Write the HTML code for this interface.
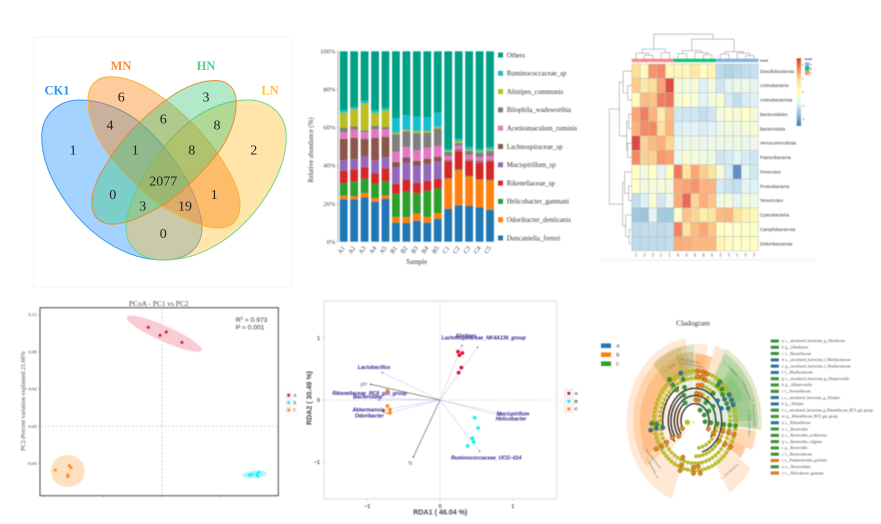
<!DOCTYPE html>
<html lang="en">
<head>
<meta charset="utf-8">
<title>Microbiome composite figure</title>
<style>
html,body{margin:0;padding:0;background:#fff;width:881px;height:524px;overflow:hidden}
svg{display:block}
#venn{filter:blur(.3px)}
#stack,#heat,#pcoa,#rda,#clado{filter:blur(.5px)}
.serif{font-family:"Liberation Serif",serif}
.sans{font-family:"Liberation Sans",sans-serif}
</style>
</head>
<body>
<svg id="fig" xmlns="http://www.w3.org/2000/svg" width="881" height="524" viewBox="0 0 881 524">
  <g id="venn">
    <rect x="33.5" y="37" width="258" height="250" fill="#fff" stroke="#fafafa" stroke-width="2"/>
    <path d="M80,100 C100,100 120,108 136.7,120 C165,143 193,180 201,218 C206,245 190,260 163,260 C125,260 90,235 68,205 C50,180 41.7,158 41.7,137 C41.7,113 60,100 80,100 Z" fill="rgba(30,144,255,.4)" stroke="#3a96ee" stroke-width="1"/>
    <path transform="translate(328 0) scale(-1 1)" d="M80,100 C100,100 120,108 136.7,120 C165,143 193,180 201,218 C206,245 190,260 163,260 C125,260 90,235 68,205 C50,180 41.7,158 41.7,137 C41.7,113 60,100 80,100 Z" fill="rgba(255,190,40,.4)" stroke="#6cd68c" stroke-width="1"/>
    <path d="M110,76.7 C130,76.7 148,87 163,98 C190,118 212,142 225,165 C236,182 240,195 240,205 C240,220 232,228 218,228 C205,228 190,222 163,207 C140,190 120,170 105,150 C95,135 88,118 88,100 C88,85 97,76.7 110,76.7 Z" fill="rgba(250,130,20,.42)" stroke="#f7b733" stroke-width="1"/>
    <path transform="translate(164 152) scale(-.95 .95) translate(-164 -152)" d="M110,76.7 C130,76.7 148,87 163,98 C190,118 212,142 225,165 C236,182 240,195 240,205 C240,220 232,228 218,228 C205,228 190,222 163,207 C140,190 120,170 105,150 C95,135 88,118 88,100 C88,85 97,76.7 110,76.7 Z" fill="rgba(60,200,120,.4)" stroke="#e88a30" stroke-width="1"/>
    <g class="serif" font-weight="bold" font-size="12.5" text-anchor="middle">
      <text x="57" y="94.5" fill="#2f94ee">CK1</text>
      <text x="121" y="70" fill="#fb8c3a">MN</text>
      <text x="206" y="70" fill="#55cf8a">HN</text>
      <text x="270" y="94.5" fill="#f9c23c">LN</text>
    </g>
    <g class="serif" font-size="14" text-anchor="middle" fill="#222">
      <text x="121.3" y="101.4">6</text>
      <text x="206" y="101.4">3</text>
      <text x="73" y="154.7">1</text>
      <text x="110" y="129.4">4</text>
      <text x="163.3" y="123.7">6</text>
      <text x="217" y="129.4">8</text>
      <text x="253.7" y="154.7">2</text>
      <text x="135.3" y="154.7">1</text>
      <text x="191.7" y="154.7">8</text>
      <text x="163.3" y="185.4">2077</text>
      <text x="112.7" y="199">0</text>
      <text x="214.3" y="199">1</text>
      <text x="142.7" y="210.4">3</text>
      <text x="185" y="210.4">19</text>
      <text x="163.3" y="238">0</text>
    </g>
  </g>
  <g id="stack"></g>
  <g id="heat"></g>
  <g id="pcoa"></g>
  <g id="rda"></g>
  <g id="clado"></g>
</svg>
<script>
// ---------- stacked bar data ----------
const samples = ['A1','A2','A3','A4','A5','B1','B2','B3','B4','B5','C1','C2','C3','C4','C5'];
const taxa = ['Duncaniella_freteri','Odoribacter_denticanis','Helicobacter_ganmani','Rikenellaceae_sp','Mucispirillum_sp','Lachnospiraceae_sp','Acetitomaculum_ruminis','Bilophila_wadsworthia','Alistipes_communis','Ruminococcaceae_sp','Others'];
const taxaColors = ['#1f77b4','#ff7f0e','#2ca02c','#d62728','#9467bd','#8c564b','#e377c2','#7f7f7f','#bcbd22','#17becf','#00a087'];
const duncaniella = [22.3,22.3,23.2,21,22.5,10,9.8,11,10,12,17.3,19,18.8,18,16.8];
const odoribacter = [1.9,1.7,2.3,2,1.8,3,3.2,3.7,3,3,15.7,18.5,15.4,14.5,15.4];
const helicobacter = [6.5,7.5,7.5,7.5,7.4,12.2,13.4,10.8,13.7,13,.3,.5,.4,.3,.4];
const rikenellaceae = [6.6,6.4,6,5.5,6.7,5.2,6.2,5.5,5.3,5,9,9.5,7.9,8.7,9.6];
const mucispirillum = [5.5,5.4,5.8,6.7,5.9,8.8,9,9,8.7,9,.3,.3,.3,.3,.3];
const lachnospiraceae = [11.2,11.2,9.2,11.8,10.7,2.6,2.6,2.5,2.9,2.5,.4,.7,.5,.7,.5];
const acetitomaculum = [3.5,4.4,3.5,4.5,4.2,5.4,5.6,5.5,5.7,5.8,1.8,1.8,2.2,2,2];
const bilophila = [2.2,1.6,1,1.8,1.1,9.3,8.2,9,8,9.1,2.4,1.5,2.3,2.3,2.7];
const alistipes = [8.1,9.1,14.2,6.9,8.7,.8,.8,1,.9,.9,.6,1,.6,.7,.8];
const ruminococcaceae = [1.4,1.2,1.3,1.5,1.3,7.5,7.7,7.7,7.1,7.5,.9,1.2,1.4,1.1,1.1];
const others = [30.8,29.2,26,30.8,29.7,35.2,33.5,34.3,34.7,32.2,51.3,46,50.2,51.4,50.4];
const stackTicks = [0,20,40,60,80,100];

// ---------- heatmap data ----------
const phyla = ['Desulfobacterota','Actinobacteria','Actinobacteriota','Bacteroidetes','Bacteroidota','Verrucomicrobiota','Patescibacteria','Firmicutes','Proteobacteria','Tenericutes','Cyanobacteria','Campilobacterota','Deferribacterota'];
const heatCols = ['C3','C2','C5','C1','C4','B1','B3','B5','B2','B4','A2','A3','A1','A5','A4'];
const rowDesulfo = [.9,.2,1.75,1.85,.2,.3,.3,.7,.1,.3,-1.3,-1.45,-1.35,-1.25,-1.2];
const rowActinoA = [1.1,.7,.9,1.6,2.45,-.35,-.45,-.3,-.9,-.4,-1.1,-.75,-.6,-.55,-.75];
const rowActinoB = [.1,1.3,1.2,1.95,2.05,-.2,-.05,-.25,-.85,-.4,-.2,-1,-1.25,-.95,-.9];
const rowBacteroidetes = [1.55,1.95,1.4,.55,1.3,-1.05,-1.1,-1.1,-1.25,-1.1,-.35,-.15,-.25,0,-.3];
const rowBacteroidota = [1.4,1.85,1.85,.85,1.4,-.9,-.85,-.85,-.95,-.85,-.55,-.45,-.5,-.25,-.35];
const rowVerruco = [2.5,1.05,1.3,1.45,1,-.6,-.6,-.55,-.6,-.55,-.55,-.55,-.55,-.6,-.55];
const rowPatesci = [1.85,1.05,1.05,1.7,1.6,-.55,-.2,-.35,-.5,-.5,-1.1,-1,-.75,-1,-1.1];
const rowFirmicutes = [.05,-.4,0,-.8,.05,2,.85,1.55,1.1,.8,-.25,-1,-2.4,-.7,-1.05];
const rowProteo = [0,-.4,-.35,-.3,-.4,1.5,1.6,1.75,1.4,1.4,-1,-1.15,-1.2,-.75,-.9];
const rowTeneri = [-1.25,-.9,-.15,-1.05,-.55,1.5,2.15,1,1.45,1.2,-.4,-.3,-.8,-.35,-.45];
const rowCyano = [-1.65,-1.7,-.75,-1.6,-1.6,-.1,1.2,1,.5,.8,1.3,1.4,.8,.4,.3];
const rowCampilo = [-1.3,-1.25,-1.25,-1.3,-1.2,1.9,.85,1.3,1.55,1.2,.05,0,-.15,-.05,-.1];
const rowDeferri = [-1.3,-1.3,-1.3,-1.3,-1.25,1.5,1.45,1.35,1.35,1.35,.35,.1,-.1,.05,.05];
const heatStops = ['#4575b4','#91bfdb','#e0f3f8','#ffffbf','#fee090','#fc8d59','#d73027'];
const heatScaleTicks = [2,1,0,-1,-2];
const annotGroups = ['C','B','A'];
const annotColors = ['#f8898a','#15c26b','#7eb0f2'];
const colTree = [24.5,[9.5,[5.5,0,[3.5,1,2]],[6,3,4]],[19.5,[8,[5,5,6],[6,7,[4,8,9]]],[7,[4.5,10,11],[5.5,12,[3,13,14]]]]];
const rowTree = [22.4,[12.4,[8.5,0,[4,1,2]],[5,[3,3,4],[4,5,6]]],[9,[7,7,[3,8,9]],[6,10,[2.5,11,12]]]];

// ---------- PCoA data ----------
const pcoaGroups = ['A','B','C'];
const pcoaColors = ['#e0103c','#19eef2','#ff8a10'];
const pcoaAx = [-.014,-.002,.0044,.0204];
const pcoaAy = [.1063,.0976,.1013,.0902];
const pcoaBx = [.0893,.092,.0968,.0992,.0982];
const pcoaBy = [-.0523,-.0516,-.0512,-.0494,-.0537];
const pcoaCx = [-.1091,-.0948,-.093,-.0964,-.0961];
const pcoaCy = [-.0469,-.0423,-.0445,-.052,-.0541];
const pcoaYTicks = [-.04,0,.04,.08,.12];
const pcoaXTicks = [-.12,-.06,0,.06];

// ---------- RDA data ----------
const rdaAx = [.247,.307,.266,.293,.256];
const rdaAy = [.777,.756,.72,.52,.44];
const rdaBx = [.476,.522,.444,.462,.38];
const rdaBy = [-.284,-.45,-.616,-.675,-.74];
const rdaCx = [-.723,-.723,-.687,-.687,-.774];
const rdaCy = [.15,-.096,-.155,-.209,-.177];
const envNames = ['pH','N'];
const envX = [-.952,-.366];
const envY = [.252,-.916];
const rdaSpecies = ['Alistipes','Lachnospiraceae_NK4A136_group','Lactobacillus','Rikenellaceae_RC9_gut_group','Bacteroides','Akkermansia','Odoribacter','Mucispirillum','Helicobacter','Ruminococcaceae_UCG−014'];
const speciesX = [.302,.517,-.792,-.82,-.84,-.778,-.733,.847,.824,.545];
const speciesY = [.874,.847,.44,.03,0,-.16,-.214,-.22,-.252,-.825];
const rdaTicks = [-1,0,1];

// ---------- cladogram data ----------
const cladoGroups = ['A','B','C'];
const cladoColors = ['#1f77b4','#ff7f0e','#2ca02c'];
const cladoLegend = ['a: s__uncultured_bacterium_g_Odoribacter','b: g__Odoribacter','c: f__Marinifilaceae','d: s__uncultured_bacterium_f_Muribaculaceae','e: g__uncultured_bacterium_f_Muribaculaceae','f: f__Muribaculaceae','g: s__uncultured_bacterium_g_Alloprevotella','h: g__Alloprevotella','i: f__Prevotellaceae','j: s__uncultured_bacterium_g_Alistipes','k: g__Alistipes','l: s__uncultured_bacterium_g_Rikenellaceae_RC9_gut_group','m: g__Rikenellaceae_RC9_gut_group','n: f__Rikenellaceae','o: c__Bacteroidia','p: s__Bacteroides_acidifaciens','q: s__Bacteroides_vulgatus','r: g__Bacteroides','s: f__Bacteroidaceae','t: s__Parabacteroides_gordonii','u: o__Bacteroidales','v: s__Helicobacter_ganmani'];
const cladoLegendGroup = [2,2,2,0,0,0,2,2,2,0,0,2,2,0,2,2,2,2,2,1,2,1];
// wedge: start angle, end angle, inner radius, outer radius, group tint, opacity
const cladoWedges = [
 [200,232,112,205,'#ff7f0e',.18],[232,352,112,205,'#ff7f0e',.17],[232,347,112,185,'#ff7f0e',.22],[240,340,112,165,'#ff7f0e',.24],
 [318,359,112,188,'#8a9a30',.3],[340,359,112,170,'#a08020',.28],[359,372,112,190,'#ff7f0e',.16],[0,18,112,165,'#ff7f0e',.42],[18,27,112,195,'#ff7f0e',.2],
 [27,97,112,200,'#8aa020',.24],[28,96,112,188,'#2ca02c',.22],[40,90,112,172,'#2ca02c',.2],[45,70,112,155,'#2ca02c',.16],
 [98,113,112,185,'#ff7f0e',.3],[113,124,112,165,'#ff7f0e',.42],[125,150,112,205,'#ff7f0e',.18],
 [225,300,40,112,'#ff7f0e',.14],[320,358,45,112,'#6a9a20',.14],[0,18,35,112,'#ff7f0e',.22],[18,95,35,112,'#2ca02c',.16],[96,110,35,112,'#ff7f0e',.18]
];
// dense yellow rings: radius, start angle, end angle, node count
const yellowRings = [[123,0,360,72],[105,0,360,60],[88,102,178,12],[68,102,170,8],[88,16,36,4],[68,20,34,2]];
// coloured nodes: group index, radius, angle
const cladeNodes = [
 [1,123,4],[1,123,12],[1,120,17],[1,109,4],[1,110,11.5],[1,105,17],[1,88,6],[1,90,13],[1,68,4],[1,67,13],[1,52,3],[1,52,12],
 [0,125,340],[2,127,323],[2,108,341],[2,110,323],[2,94,324],[2,88,339],[2,71,332],[2,53,326],
 [2,122,38],[2,111,38],[2,87,39],[2,55,36],[2,30,30],[2,65,57],[2,48,60],[2,31,63],[2,105,52],[0,103,59],[0,121,58],[2,104,66],[0,121,65],[0,121,71],[0,104,73],[0,85,69],[0,84,54],[2,112,46],
 [2,30,95],[2,48,96],[2,67,96],[2,87,96],[2,105,96],[2,122,96],
 [1,122,106],[1,105,106],[1,87,107],[1,88,124],[1,125,121],[1,63,119],[1,45,117],[1,107,123],
 [2,130,267],[2,115,266],[0,135,260],[0,117,261],[0,98,260],
 [1,42,243],[1,62,232],[1,80,238],[1,100,238],[1,118,238],[1,136,239],[1,97,202],[1,116,200],[1,131,200],[1,115,182],[1,113,175],[1,130,182],[1,131,173]
];
// thick clade arcs: radius, start angle, end angle
const cladeArcs = [[97,260,330],[72,238,328],[53,232,326],[42,243,480],[62,232,490],[80,230,525]];
const cladoTaxaLabels = [[355,137,'p__Desulfobacterota',14],[352,148,'c__Desulfovibrionia',13],[330,150,'c__Bacilli',-32],[40,165,'o__Clostridiales',48],[62,170,'f__Lachnospiraceae',66],[84,175,'p__Verrucomicrobiota',86],[92,160,'c__Verrucomicrobiae',88],[140,165,'o__Lactobacillales',-40],[235,160,'f__Erysipelotrichaceae',52],[228,175,'s__Bacteroides_sp',62]];

const SVGNS = 'http://www.w3.org/2000/svg';
function mk(tag, attrs, parent, txt){
  const el = document.createElementNS(SVGNS, tag);
  for (const k in attrs) el.setAttribute(k, attrs[k]);
  if (txt !== undefined) el.textContent = txt;
  parent.appendChild(el);
  return el;
}
function lerpHex(a,b,t){
  const p=s=>[1,3,5].map(i=>parseInt(s.substr(i,2),16));
  const A=p(a),B=p(b);
  return 'rgb('+A.map((v,i)=>Math.round(v+(B[i]-v)*t)).join(',')+')';
}

// ================= stacked bars =================
(function(){
  const g = document.getElementById('stack');
  const series = [duncaniella,odoribacter,helicobacter,rikenellaceae,mucispirillum,lachnospiraceae,acetitomaculum,bilophila,alistipes,ruminococcaceae,others];
  const yS = v => 241.7 - v*1.904;
  const xS = i => 343.7 + i*10.45;
  const axis = mk('line',{x1:338,x2:338,y1:yS(100),y2:yS(0),stroke:'#999','stroke-width':.8},g);
  
  
  stackTicks.forEach(t=>{
    const tk = mk('line',{x1:336.5,x2:338,y1:yS(t),y2:yS(t),stroke:'#999','stroke-width':.6},g);
    
    
    const lb = mk('text',{x:335.5,y:yS(t)+2.2,'text-anchor':'end','font-size':6.6,fill:'#444',class:'serif'},g,t+'%');
    
    
  });
  samples.forEach((s,i)=>{
    let acc = 0;
    series.forEach((vals,k)=>{
      const r = mk('rect',{x:xS(i)-3.9,width:7.8,y:yS(acc+vals[i]),height:vals[i]*1.904,fill:taxaColors[k]},g);
      
      
      acc += vals[i];
    });
    const t = mk('text',{x:xS(i)+1.5,y:248,'text-anchor':'end','font-size':6.4,fill:'#444',class:'serif',transform:'rotate(-55 '+(xS(i)+1.5)+' 248)'},g,s);
    
    
  });
  taxa.forEach((n,k)=>{
    const y = 238 - k*18.3;
    const sw = mk('rect',{x:498,y:y-2.5,width:5,height:5,fill:taxaColors[k]},g);
    
    
    const tx = mk('text',{x:506.7,y:y+2.3,'font-size':6.9,fill:'#333',class:'serif'},g,n);
    
    
  });
  const xt = mk('text',{x:416.7,y:264,'text-anchor':'middle','font-size':7,fill:'#333',class:'serif'},g,'Sample');
  
  
  const yt = mk('text',{x:313,y:150,'text-anchor':'middle','font-size':6.8,fill:'#333',class:'serif',transform:'rotate(-90 313 150)'},g,'Relative abundance (%)');
  
  
})();

// ================= heatmap =================
(function(){
  const g = document.getElementById('heat');
  const rows = [rowDesulfo,rowActinoA,rowActinoB,rowBacteroidetes,rowBacteroidota,rowVerruco,rowPatesci,rowFirmicutes,rowProteo,rowTeneri,rowCyano,rowCampilo,rowDeferri];
  const X0=631.7, Y0=64, CW=8.44, RH=14.38, LIM=2.5;
  const color = v=>{
    const p = Math.max(0,Math.min(.9999,(v+LIM)/(2*LIM)))*(heatStops.length-1);
    const i = Math.floor(p);
    return lerpHex(heatStops[i],heatStops[i+1],p-i);
  };
  const strip = mk('rect',{x:600,y:258.5,width:216,height:3,fill:'#f7f7f7'},g);
  
  
  rows.forEach((vals,r)=>{
    vals.forEach((v,c)=>{
      const cell = mk('rect',{x:X0+c*CW,y:Y0+r*RH,width:CW,height:RH,fill:color(v),'fill-opacity':.88,stroke:'#bdbdbd','stroke-width':.45},g);
      
      
    });
    const lb = mk('text',{x:X0+15*CW+1.7,y:Y0+(r+.5)*RH+1.6,'font-size':4.5,fill:'#333',class:'sans'},g,phyla[r]);
    
    
  });
  heatCols.forEach((c,i)=>{
    const x=X0+(i+.5)*CW, y=Y0+13*RH+2;
    const lb = mk('text',{x:x,y:y,'font-size':3,fill:'#555','text-anchor':'end',class:'sans',transform:'rotate(-90 '+x+' '+y+') translate(0 1)'},g,c);
    
    
    const an = mk('rect',{x:X0+i*CW,y:58.7,width:CW+.1,height:3.4,fill:annotColors[Math.floor(i/5)]},g);
    
    
  });
  const tl = mk('text',{x:X0+15*CW+1.7,y:61.3,'font-size':3,'font-weight':'bold',fill:'#222',class:'sans'},g,'treat1');
  
  
  // dendrograms
  function walk(node, pos, pt, d){
    if (typeof node === 'number') return {p:pos(node),h:0};
    const a = walk(node[1],pos,pt,d), b = walk(node[2],pos,pt,d), h = node[0];
    d.push('M'+pt(a.p,a.h)+'L'+pt(a.p,h)+'L'+pt(b.p,h)+'L'+pt(b.p,b.h));
    return {p:(a.p+b.p)/2,h:h};
  }
  const d1=[], d2=[];
  walk(colTree,i=>X0+(i+.5)*CW,(p,h)=>p+' '+(58.7-h),d1);
  walk(rowTree,i=>Y0+(i+.5)*RH,(p,h)=>(631.7-h)+' '+p,d2);
  const ct = mk('path',{d:d1.join(''),fill:'none',stroke:'#9a9a9a','stroke-width':.6},g);
  
  
  const rt = mk('path',{d:d2.join(''),fill:'none',stroke:'#9a9a9a','stroke-width':.6},g);
  
  
  // colour scale
  const bx=796.7, by=58.3, bw=4.3, bh=67.4;
  for(let i=0;i<48;i++){
    const v = LIM - i/48*2*LIM;
    const s = mk('rect',{x:bx,y:by+i*bh/48,width:bw,height:bh/48+.2,fill:color(v-LIM/48)},g);
    
    
  }
  heatScaleTicks.forEach(t=>{
    const lb = mk('text',{x:bx+bw+1,y:by+bh/2-t/LIM*bh/2+1,'font-size':2.8,fill:'#444',class:'sans'},g,t);
    
    
  });
  const lt = mk('text',{x:804.6,y:60,'font-size':2.8,'font-weight':'bold',fill:'#222',class:'sans'},g,'treat1');
  
  
  [2,1,0].forEach((k,i)=>{
    const s = mk('rect',{x:805,y:62.3+i*4.2,width:4.3,height:4.2,fill:annotColors[k]},g);
    
    
    const l = mk('text',{x:810,y:65.3+i*4.2,'font-size':2.8,fill:'#333',class:'sans'},g,annotGroups[k]);
    
    
  });
})();

// ================= PCoA =================
(function(){
  const g = document.getElementById('pcoa');
  const xS = v => 162 + v*978;
  const yS = v => 426.3 - v*931;
  const frame = mk('rect',{x:40,y:307.7,width:238.3,height:188,fill:'#fff',stroke:'#555','stroke-width':1.1},g);
  
  
  const zx = mk('line',{x1:xS(0),x2:xS(0),y1:308,y2:495,stroke:'#cfcfcf','stroke-width':.9,'stroke-dasharray':'2 2'},g);
  
  
  const zy = mk('line',{x1:40,x2:278,y1:yS(0),y2:yS(0),stroke:'#cfcfcf','stroke-width':.9,'stroke-dasharray':'2 2'},g);
  
  
  const ell = [[164.3,333.7,41,7.8,24,'#f7ccd5','A'],[254.7,474.3,12.2,3.6,-5,'#a9f7f9','B'],[67.7,471,17,16,0,'#fde0c0','C']];
  ell.forEach(e=>{
    const el = mk('ellipse',{cx:e[0],cy:e[1],rx:e[2],ry:e[3],fill:e[5],transform:'rotate('+e[4]+' '+e[0]+' '+e[1]+')'},g);
    
    
  });
  [[pcoaAx,pcoaAy],[pcoaBx,pcoaBy],[pcoaCx,pcoaCy]].forEach((s,k)=>{
    s[0].forEach((x,i)=>{
      const c = mk('circle',{cx:xS(x),cy:yS(s[1][i]),r:1.5,fill:pcoaColors[k]},g);
      
      
    });
  });
  pcoaYTicks.forEach(t=>{
    const tk = mk('line',{x1:38.5,x2:40,y1:yS(t),y2:yS(t),stroke:'#555','stroke-width':.5},g);
    
    
    const lb = mk('text',{x:36.5,y:yS(t)+1.6,'text-anchor':'end','font-size':4.6,fill:'#333',class:'serif'},g,t===0?'0.00':t.toFixed(2));
    
    
  });
  pcoaXTicks.forEach(t=>{
    const tk = mk('line',{x1:xS(t),x2:xS(t),y1:495.7,y2:497.2,stroke:'#555','stroke-width':.5},g);
    
    
  });
  const ti = mk('text',{x:158.7,y:306,'text-anchor':'middle','font-size':7.4,fill:'#444',class:'serif'},g,'PCoA - PC1 vs PC2');
  
  
  const yt = mk('text',{x:24.8,y:401,'text-anchor':'middle','font-size':6.1,fill:'#444',class:'serif',transform:'rotate(-90 24.8 401)'},g,'PC2-Percent variation explained 21.68%');
  
  
  const r2 = mk('text',{x:235.7,y:322,'font-size':6.7,fill:'#333',class:'sans'},g);
  
  
  r2.innerHTML = 'R<tspan dy="-2.5" font-size="4.5">2</tspan><tspan dy="2.5"> = 0.973</tspan>';
  const pv = mk('text',{x:235.7,y:329.5,'font-size':6.7,fill:'#333',class:'sans'},g,'P = 0.001');
  
  
  const bg = mk('rect',{x:285,y:391.5,width:7,height:22,fill:'#f4f4f4'},g);
  
  
  pcoaGroups.forEach((n,k)=>{
    const y = 395.3+k*7.35;
    const c = mk('circle',{cx:288.7,cy:y,r:1.5,fill:pcoaColors[k]},g);
    
    
    const t = mk('text',{x:293.3,y:y+1.7,'font-size':4.8,fill:'#444',class:'serif'},g,n);
    
    
  });
})();

// ================= RDA =================
(function(){
  const g = document.getElementById('rda');
  const xS = v => 440 + v*72.8;
  const yS = v => 400 - v*62.2;
  const frame = mk('rect',{x:324,y:301,width:232.7,height:198,fill:'#fff',stroke:'#e6e6e6','stroke-width':1.4},g);
  
  
  const zx = mk('line',{x1:xS(0),x2:xS(0),y1:302,y2:498,stroke:'#c4c4c4','stroke-width':.6,'stroke-dasharray':'2 1.6'},g);
  
  
  const zy = mk('line',{x1:325,x2:556,y1:yS(0),y2:yS(0),stroke:'#c4c4c4','stroke-width':.6,'stroke-dasharray':'2 1.6'},g);
  
  
  const labelPos = [[466,337.7],[483.7,339.7],[374,369],[369.7,395],[367.7,398.5],[368.3,411.6],[369.3,417.3],[513,415.3],[511,420.7],[486.3,459.3]];
  rdaSpecies.forEach((n,i)=>{
    const l = mk('line',{x1:xS(0),y1:yS(0),x2:xS(speciesX[i]),y2:yS(speciesY[i]),stroke:'#a8a8dc','stroke-width':.6,'stroke-dasharray':'1 .8'},g);
    
    
    const c = mk('circle',{cx:xS(speciesX[i]),cy:yS(speciesY[i]),r:.7,fill:'#3a3aa0'},g);
    
    
  });
  envNames.forEach((n,i)=>{
    const l = mk('line',{x1:xS(0),y1:yS(0),x2:xS(envX[i]),y2:yS(envY[i]),stroke:'#777','stroke-width':.8},g);
    
    
    const c = mk('circle',{cx:xS(envX[i]),cy:yS(envY[i]),r:.8,fill:'#555'},g);
    
    
    const t = mk('text',{x:xS(envX[i])+(i?-3:-7),y:yS(envY[i])+(i?8:1.5),'font-size':5,fill:'#666','text-anchor':'middle',class:'sans'},g,n);
    
    
  });
  const cols=['#e0103c','#19eef2','#ff8a10'];
  [[rdaAx,rdaAy],[rdaBx,rdaBy],[rdaCx,rdaCy]].forEach((s,k)=>{
    s[0].forEach((x,i)=>{
      const c = mk('circle',{cx:xS(x),cy:yS(s[1][i]),r:1.9,fill:cols[k]},g);
      
      
    });
  });
  rdaSpecies.forEach((n,i)=>{
    const t = mk('text',{x:labelPos[i][0],y:labelPos[i][1],'font-size':5.1,'font-weight':'bold','font-style':'italic',fill:'#2a1a8f','text-anchor':'middle',class:'sans'},g,n);
    
    
  });
  rdaTicks.forEach(t=>{
    const a = mk('text',{x:xS(t),y:508,'font-size':5.5,'font-weight':'bold',fill:'#555','text-anchor':'middle',class:'sans'},g,t<0?'−'+(-t):t);
    
    
    const b = mk('text',{x:320,y:yS(t)+2,'font-size':5.5,'font-weight':'bold',fill:'#555','text-anchor':'end',class:'sans'},g,t<0?'−'+(-t):t);
    
    
    const c = mk('line',{x1:xS(t),x2:xS(t),y1:499,y2:500.5,stroke:'#888','stroke-width':.5},g);
    
    
    const d = mk('line',{x1:322.5,x2:324,y1:yS(t),y2:yS(t),stroke:'#888','stroke-width':.5},g);
    
    
  });
  const xt = mk('text',{x:440.3,y:514.5,'font-size':7.1,'font-weight':'bold',fill:'#444','text-anchor':'middle',class:'sans'},g,'RDA1 ( 46.04 %)');
  
  
  const yt = mk('text',{x:311.5,y:398,'font-size':7.1,'font-weight':'bold',fill:'#444','text-anchor':'middle',class:'sans',transform:'rotate(-90 311.5 398)'},g,'RDA2 ( 30.49 %)');
  
  
  const box = mk('rect',{x:564.5,y:389,width:9,height:23.5,fill:'#f5f5f5',stroke:'#e2e2e2','stroke-width':.5},g);
  
  
  pcoaGroups.forEach((n,k)=>{
    const y = 393.3+k*7.85;
    const c = mk('circle',{cx:568.9,cy:y,r:1.6,fill:cols[k]},g);
    
    
    const t = mk('text',{x:574.5,y:y+1.6,'font-size':4.6,'font-weight':'bold',fill:'#444',class:'sans'},g,n);
    
    
  });
})();

// ================= cladogram =================
(function(){
  const g = document.getElementById('clado');
  const CX=695, CY=420.7, K=1/3, SY=1.216;
  const P = (r,a)=>{
    const t=a*Math.PI/180;
    return [CX+r*K*Math.sin(t), CY-r*K*SY*Math.cos(t)];
  };
  const pts = (r,a0,a1)=>{
    const out=[]; const n=Math.max(2,Math.ceil(Math.abs(a1-a0)/3));
    for(let i=0;i<=n;i++) out.push(P(r,a0+(a1-a0)*i/n).map(v=>v.toFixed(1)).join(' '));
    return out;
  };
  cladoWedges.forEach(w=>{
    const d='M'+pts(w[3],w[0],w[1]).join('L')+'L'+pts(w[2],w[1],w[0]).join('L')+'Z';
    const p = mk('path',{d:d,fill:w[4],'fill-opacity':w[5]},g);
    
    
  });
  cladoTaxaLabels.forEach(l=>{
    const pos=P(l[1],l[0]);
    const t = mk('text',{x:pos[0],y:pos[1],'font-size':3,fill:'#666','text-anchor':'middle',class:'serif',transform:'rotate('+l[3]+' '+pos[0]+' '+pos[1]+')'},g,l[2]);
    
    
  });
  cladeArcs.forEach(a=>{
    const p = mk('path',{d:'M'+pts(a[0],a[1],a[2]).join('L'),fill:'none',stroke:'#111','stroke-width':1.2},g);
    
    
  });
  yellowRings.forEach(R=>{
    const full=R[2]-R[1]===360;
    for(let i=0;i<R[3];i++){
      const a=R[1]+(R[2]-R[1])*i/(full?R[3]:R[3]-1);
      const q=P(R[0],a);
      const q2=P(R[0]+15,a);
      if(R[0]===105){
        const sp = mk('line',{x1:q[0],y1:q[1],x2:q2[0],y2:q2[1],stroke:'#999','stroke-width':.3},g);
        
        
      }
      const c = mk('circle',{cx:q[0],cy:q[1],r:1.75,fill:'#bcbd22',stroke:'#a6a81a','stroke-width':.3},g);
      
      
    }
  });
  cladeNodes.forEach(n=>{
    const q=P(n[1],n[2]);
    const c = mk('circle',{cx:q[0],cy:q[1],r:2.1,fill:cladoColors[n[0]],stroke:'#2b3a1a','stroke-width':.4},g);
    
    
  });
  const rn = mk('circle',{cx:687.3,cy:422.3,r:2.7,fill:'#bcbd22'},g);
  
  
  const rs = mk('circle',{cx:693.3,cy:422.3,r:.8,fill:'#bcbd22'},g);
  
  
  const ti = mk('text',{x:693,y:325.7,'text-anchor':'middle','font-size':7.6,fill:'#333',class:'serif'},g,'Cladogram');
  
  
  cladoGroups.forEach((n,k)=>{
    const y=345.7+k*9;
    const s = mk('rect',{x:601,y:y-2.3,width:10,height:4.6,fill:cladoColors[k]},g);
    
    
    const t = mk('text',{x:616,y:y+1.8,'font-size':5.4,fill:'#333',class:'serif'},g,n);
    
    
  });
  cladoLegend.forEach((n,i)=>{
    const y=341+i*6.29;
    const s = mk('rect',{x:771,y:y-1.3,width:7.6,height:2.6,fill:cladoColors[cladoLegendGroup[i]],stroke:'#2b3a1a','stroke-width':.3},g);
    
    
    const t = mk('text',{x:781.7,y:y+1.2,'font-size':3.65,fill:'#444',class:'serif'},g,n);
    
    
  });
})();
</script>
</body>
</html>
